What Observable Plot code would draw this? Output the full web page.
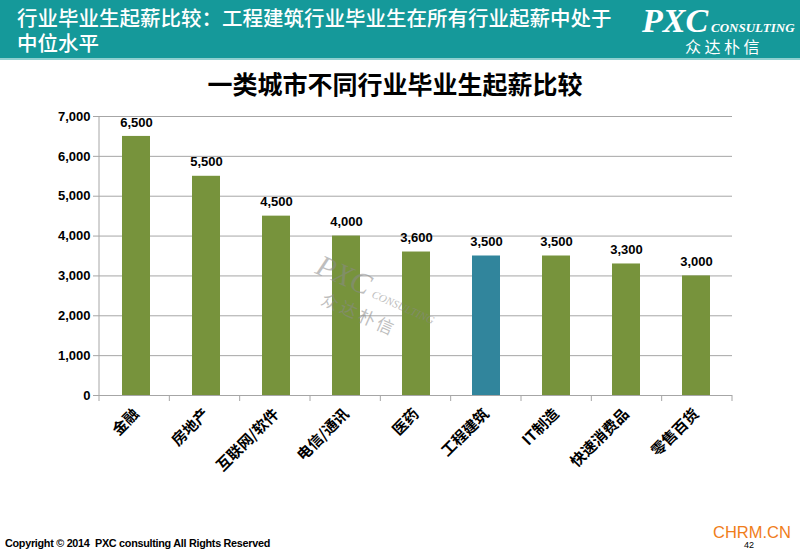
<!DOCTYPE html>
<html>
<head>
<meta charset="utf-8">
<script src="https://cdn.jsdelivr.net/npm/d3@7"></script>
<script src="https://cdn.jsdelivr.net/npm/@observablehq/plot@0.6"></script>
<style>
  body { margin: 0; background: #fff; }
  #page { position: relative; width: 800px; height: 553px; overflow: hidden; background: #fff; font-family: "Noto Sans CJK SC", "Liberation Sans", sans-serif; }
  #header { position: absolute; left: 0; top: 0; width: 800px; height: 58px; background: #15999a; border-bottom: 2px solid #8fd0d0; }
  #htitle { position: absolute; left: 17px; top: 5px; color: #fff; font-size: 20.5px; line-height: 25px; font-weight: 500; white-space: nowrap; }
  #logo1 { position: absolute; left: 642px; top: 2px; color: #fff; font-family: "Liberation Serif", serif; font-style: italic; font-weight: bold; font-size: 34px; }
  #logo2 { position: absolute; left: 711px; top: 20px; color: #fff; font-family: "Liberation Serif", serif; font-style: italic; font-weight: bold; font-size: 13px; }
  #logo3 { position: absolute; left: 685px; top: 34px; color: #fff; font-size: 16px; letter-spacing: 3.5px; white-space: nowrap; }
  #ctitle { position: absolute; left: 0; top: 65px; width: 790px; text-align: center; font-size: 25px; font-weight: bold; color: #000; }
  #chart { position: absolute; left: 0; top: 100px; }
  #copy { position: absolute; left: 5px; top: 537px; font-family: "Liberation Sans", sans-serif; font-weight: bold; font-size: 11.5px; color: #000; letter-spacing: -0.3px; white-space: nowrap; transform: scaleX(0.94); transform-origin: left top; }
  #chrm { position: absolute; left: 713px; top: 523px; font-family: "Liberation Sans", sans-serif; font-size: 16.5px; color: #f07d1a; white-space: nowrap; }
  #pnum { position: absolute; left: 744px; top: 540px; font-family: "Liberation Sans", sans-serif; font-size: 9px; color: #000; }
  #wm { position: absolute; left: 325px; top: 248px; transform: rotate(24deg); transform-origin: left top; color: #8a8a8a; opacity: 0.55; pointer-events: none; white-space: nowrap; }
  #wm1 { font-family: "Liberation Serif", serif; font-style: italic; font-size: 30px; }
  #wm2 { position: absolute; left: 62px; top: 16px; font-family: "Liberation Serif", serif; font-style: italic; font-size: 11px; }
  #wm3 { position: absolute; left: 18px; top: 33px; font-size: 17px; letter-spacing: 3px; }
</style>
</head>
<body>
<div id="page">
  <div id="header">
    <div id="htitle">行业毕业生起薪比较：工程建筑行业毕业生在所有行业起薪中处于<br>中位水平</div>
    <div id="logo1">PXC</div>
    <div id="logo2">CONSULTING</div>
    <div id="logo3">众达朴信</div>
  </div>
  <div id="ctitle">一类城市不同行业毕业生起薪比较</div>
  <div id="chart"></div>
  <div id="wm"><div id="wm1">PXC</div><div id="wm2">CONSULTING</div><div id="wm3">众达朴信</div></div>
  <div id="copy">Copyright © 2014&nbsp; PXC consulting All Rights Reserved</div>
  <div id="chrm">CHRM.CN</div>
  <div id="pnum">42</div>
</div>
<script>
const industries = ["金融", "房地产", "互联网/软件", "电信/通讯", "医药", "工程建筑", "IT制造", "快速消费品", "零售百货"];
const salaries = [6500, 5500, 4500, 4000, 3600, 3500, 3500, 3300, 3000];
const yTicks = [0, 1000, 2000, 3000, 4000, 5000, 6000, 7000];
const highlighted = "工程建筑";

const GREEN = "#77933c";
const BLUE = "#31859c";
const GRID = "#a6a6a6";

const data = industries.map((industry, i) => ({industry, salary: salaries[i]}));
const fmt = d3.format(",");

const plot = Plot.plot({
  width: 800,
  height: 420,
  marginTop: 16,
  marginBottom: 125,
  marginLeft: 99,
  marginRight: 68,
  style: {fontFamily: "'Liberation Sans', 'Noto Sans CJK SC', sans-serif", color: "#000", background: "transparent"},
  x: {domain: industries, paddingInner: 0.6, paddingOuter: 0.3, label: null},
  y: {domain: [0, 7000], label: null},
  color: {type: "identity"},
  marks: [
    Plot.gridY(yTicks, {stroke: GRID, strokeOpacity: 1}),
    Plot.barY(data, {x: "industry", y: "salary", fill: d => d.industry === highlighted ? BLUE : GREEN}),
    Plot.text(data, {x: "industry", y: "salary", text: d => fmt(d.salary), dy: -14, fontSize: 13, fontWeight: "bold", fill: "#000"}),
    Plot.ruleY([0], {stroke: GRID}),
    Plot.axisY({ticks: yTicks, tickFormat: fmt, tickSize: 6, tickPadding: 3, fontSize: 13, fontWeight: "bold", stroke: GRID, fill: "#000"}),
    Plot.axisX({tickRotate: -45, tickSize: 0, tickPadding: 16, fontSize: 15, fontWeight: "bold", fill: "#000", fontFamily: "'Noto Sans CJK SC', sans-serif"})
  ]
});

// y axis line and category boundary ticks derived from the x band scale
const xs = plot.scale("x");
const ys = plot.scale("y");
const svg = d3.select(plot);
const [x0, x1] = xs.range;
const y0 = ys.apply(0), yTop = ys.apply(7000);
svg.append("line").attr("x1", x0).attr("x2", x0).attr("y1", yTop).attr("y2", y0).attr("stroke", GRID);
const n = industries.length;
const step = (x1 - x0) / n;
for (let k = 0; k <= n; k++) {
  const bx = x0 + k * step;
  svg.append("line").attr("x1", bx).attr("x2", bx).attr("y1", y0).attr("y2", y0 + 6).attr("stroke", GRID);
}

document.getElementById("chart").appendChild(plot);
</script>
</body>
</html>
